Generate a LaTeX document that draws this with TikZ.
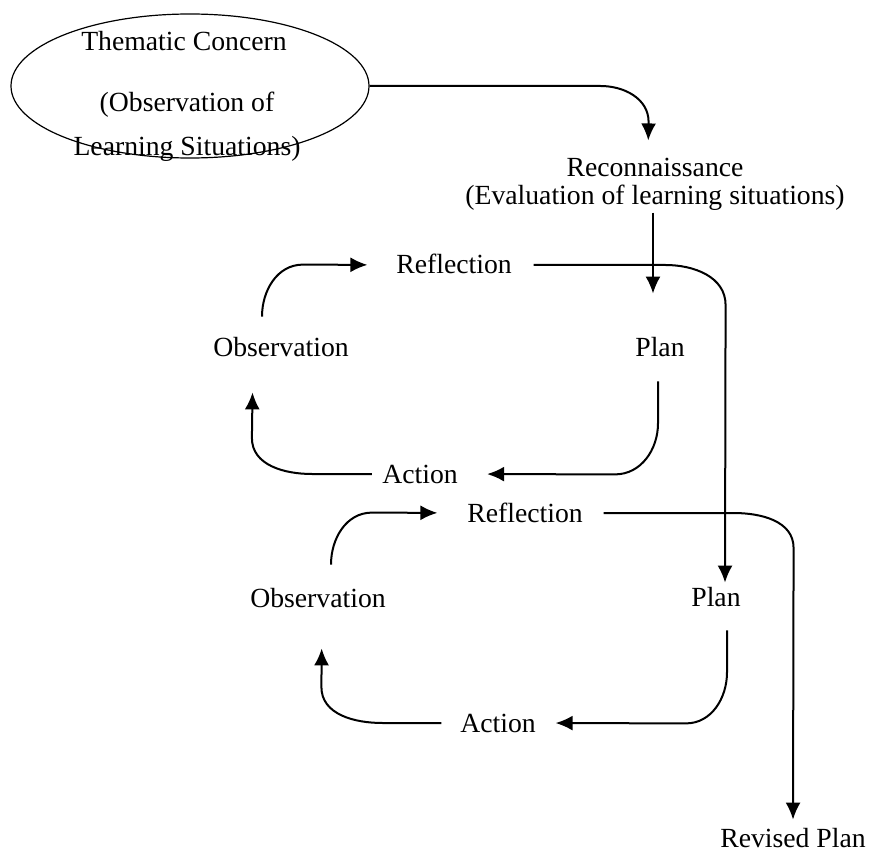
\documentclass[tikz,border=0pt]{standalone}
\usepackage{fontspec}
\setmainfont{Liberation Serif}
\usepackage{tikz}
\usetikzlibrary{calc}
\usetikzlibrary{arrows.meta}
\usetikzlibrary{shapes}
\usetikzlibrary{shapes.geometric}

\tikzset{
  lbl/.style={inner sep=0pt, text height=9.5pt, text depth=0.5pt, font=\fontsize{13.85pt}{14pt}\selectfont},
  arr/.style={-{Latex[length=8.5pt,width=7.5pt]}, line width=1pt, draw=black},
}

\begin{document}
\begin{tikzpicture}[x=0.5pt, y=-0.5pt]
\useasboundingbox (0,0) rectangle (869,856);
\node [ellipse, draw=black, line width=0.6pt, minimum width=179pt, minimum height=72pt, inner sep=0pt] (concern) at (190,86) {};
\node [lbl] (concernA) at (184,42) {Thematic Concern};
\node [lbl] (concernB) at (187,103) {(Observation of};
\node [lbl] (concernC) at (187,147) {Learning Situations)};
\node [inner sep=0pt, align=center, font=\fontsize{13.85pt}{14pt}\selectfont] (recon) at (655,184) {Reconnaissance\\(Evaluation of learning situations)};
% first cycle
\node [lbl] (refl1) at (454,265) {Reflection};
\node [lbl] (obs1) at (281,348) {Observation};
\node [lbl] (plan1) at (660,348) {Plan};
\node [lbl] (act1) at (420,474) {Action};
% second cycle
\node [lbl] (refl2) at (525,513) {Reflection};
\node [lbl] (obs2) at (318,598) {Observation};
\node [lbl] (plan2) at (716,597) {Plan};
\node [lbl] (act2) at (498,723) {Action};
\node [lbl] (revised) at (793,838) {Revised Plan};

\draw [arr, shorten >=8.5pt] (concern.east) -- ++(231,0) to[out=0,in=90] ++(48,36) -- ($(recon.north)+(-7,0)$);
\draw [arr, shorten <=1pt, shorten >=22pt] ($(recon.south)+(-2,0)$) -- ($(plan1.north)+(-7,0)$);

\draw [arr, shorten >=14.25pt] ($(obs1.north)+(-19,-21)$) to[out=90,in=180] ++(41,-52) -- (refl1.west);
\draw [arr, shorten >=2pt] ($(refl1.east)+(21.5,0)$) -- ++(132,0) to[out=0,in=90] ++(60,40) -- ($(plan2.north)+(9,0)$);
\draw [arr, shorten >=14.5pt] ($(plan1.south)+(-2,23)$) -- ++(0,42) to[out=270,in=0] ++(-43,51) -- (act1.east);
\draw [arr, shorten >=17pt] ($(act1.west)+(-10,0)$) -- ++(-60,0) to[out=180,in=270] ++(-60,-36) -- ($(obs1.south)+(-28,0)$);

\draw [arr, shorten >=14.75pt] ($(obs2.north)+(13,-23)$) to[out=90,in=180] ++(41,-52) -- (refl2.west);
\draw [arr, shorten >=4pt] ($(refl2.east)+(20.5,0)$) -- ++(130,0) to[out=0,in=90] ++(60,35) -- (revised.north);
\draw [arr, shorten >=9.75pt] ($(plan2.south)+(11,23)$) -- ++(0,42) to[out=270,in=0] ++(-41,51) -- (act2.east);
\draw [arr, shorten >=20pt] ($(act2.west)+(-18.5,0)$) -- ++(-59,0) to[out=180,in=270] ++(-61,-36) -- ($(obs2.south)+(4,0)$);
\end{tikzpicture}
\end{document}
